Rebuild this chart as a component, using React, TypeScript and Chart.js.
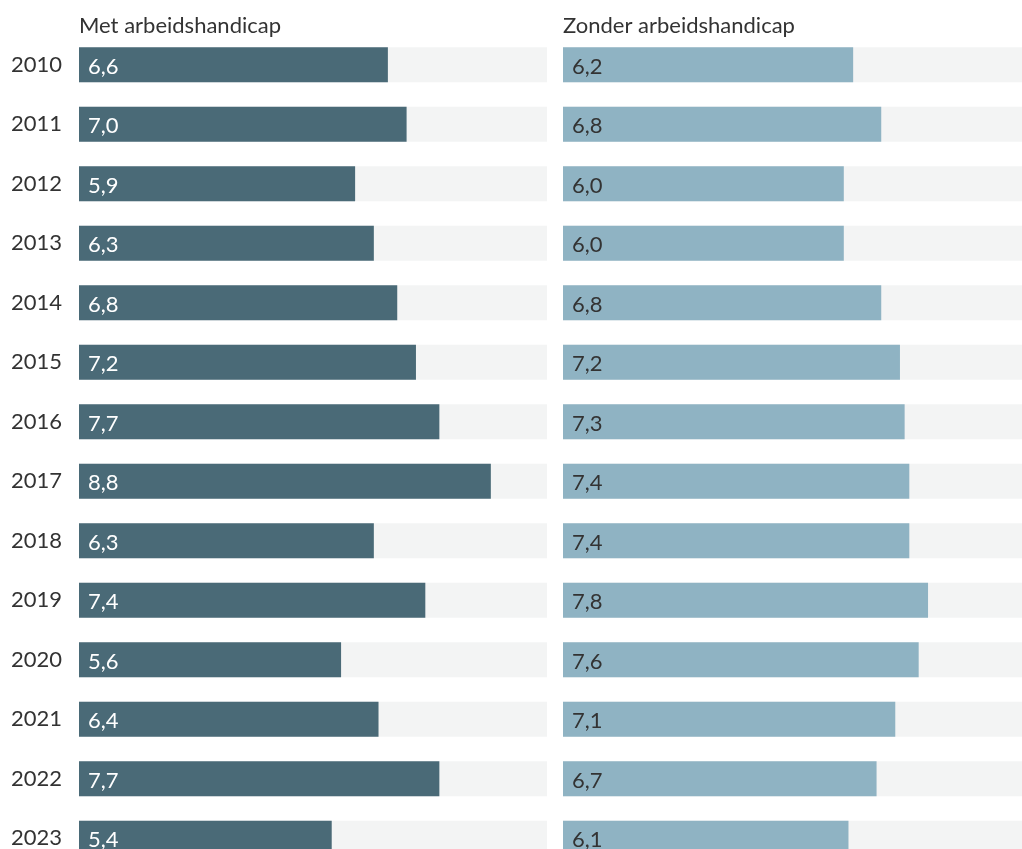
import React, { useEffect, useRef } from "react";
import { Chart, registerables } from "chart.js";

Chart.register(...registerables);

const years = ["2010", "2011", "2012", "2013", "2014", "2015", "2016", "2017", "2018", "2019", "2020", "2021", "2022", "2023"];
const metValues = [6.6, 7.0, 5.9, 6.3, 6.8, 7.2, 7.7, 8.8, 6.3, 7.4, 5.6, 6.4, 7.7, 5.4];
const zonderValues = [6.2, 6.8, 6.0, 6.0, 6.8, 7.2, 7.3, 7.4, 7.4, 7.8, 7.6, 7.1, 6.7, 6.1];
const trackValues = years.map(() => 10);
const titles = ["Met arbeidshandicap", "Zonder arbeidshandicap"];

const FONT = "Lato, 'Noto Sans', sans-serif";

function makeConfig(values: number[], title: string, color: string, textColor: string, showYears: boolean) {
  const labelPlugin = {
    id: "labels" + title,
    afterDatasetsDraw(chart: any) {
      const ctx = chart.ctx;
      const area = chart.chartArea;
      ctx.save();
      ctx.font = `22px ${FONT}`;
      ctx.fillStyle = "#333333";
      ctx.textAlign = "left";
      ctx.textBaseline = "middle";
      ctx.fillText(title, area.left, 18);
      const meta = chart.getDatasetMeta(0);
      ctx.fillStyle = textColor;
      meta.data.forEach((bar: any, i: number) => {
        const v = values[i];
        ctx.fillText(v.toFixed(1).replace(".", ","), bar.base + 9, bar.y + 2);
      });
      ctx.restore();
    },
  };
  return {
    type: "bar" as const,
    data: {
      labels: years,
      datasets: [
        {
          data: values,
          backgroundColor: color,
          grouped: false,
          order: 0,
          categoryPercentage: 1,
          barPercentage: 35 / 59.5,
        },
        {
          data: trackValues,
          backgroundColor: "#f3f4f4",
          grouped: false,
          order: 1,
          categoryPercentage: 1,
          barPercentage: 35 / 59.5,
        },
      ],
    },
    options: {
      indexAxis: "y" as const,
      animation: false as const,
      responsive: false,
      maintainAspectRatio: false,
      layout: { padding: { top: 27, bottom: 0, left: 0, right: 0 } },
      plugins: { legend: { display: false }, tooltip: { enabled: false }, title: { display: false } },
      scales: {
        x: { display: false, min: 0, max: 10 },
        y: {
          display: showYears,
          grid: { display: false, drawTicks: false },
          border: { display: false },
          ticks: { color: "#333333", padding: 17, font: { family: FONT, size: 22 } },
          afterFit(scale: any) {
            if (showYears) {
              scale.width = 71;
            }
            scale.paddingTop = 0;
            scale.paddingBottom = 0;
          },
        },
      },
    },
    plugins: [labelPlugin],
  };
}

export default function App() {
  const leftRef = useRef<HTMLCanvasElement>(null);
  const rightRef = useRef<HTMLCanvasElement>(null);

  useEffect(() => {
    document.body.style.marginRight = "0px";
    document.body.style.marginBottom = "0px";
    const c1 = new Chart(leftRef.current!, makeConfig(metValues, titles[0], "#4a6a77", "#ffffff", true) as any);
    const c2 = new Chart(rightRef.current!, makeConfig(zonderValues, titles[1], "#8fb3c3", "#333333", false) as any);
    return () => {
      c1.destroy();
      c2.destroy();
    };
  }, []);

  return (
    <div style={{ position: "relative", width: 1014, height: 841, overflow: "hidden" }}>
      <canvas ref={leftRef} width={539} height={860} style={{ position: "absolute", left: 0, top: 0, width: 539, height: 860 }} />
      <canvas ref={rightRef} width={468} height={860} style={{ position: "absolute", left: 555, top: 0, width: 468, height: 860 }} />
    </div>
  );
}
